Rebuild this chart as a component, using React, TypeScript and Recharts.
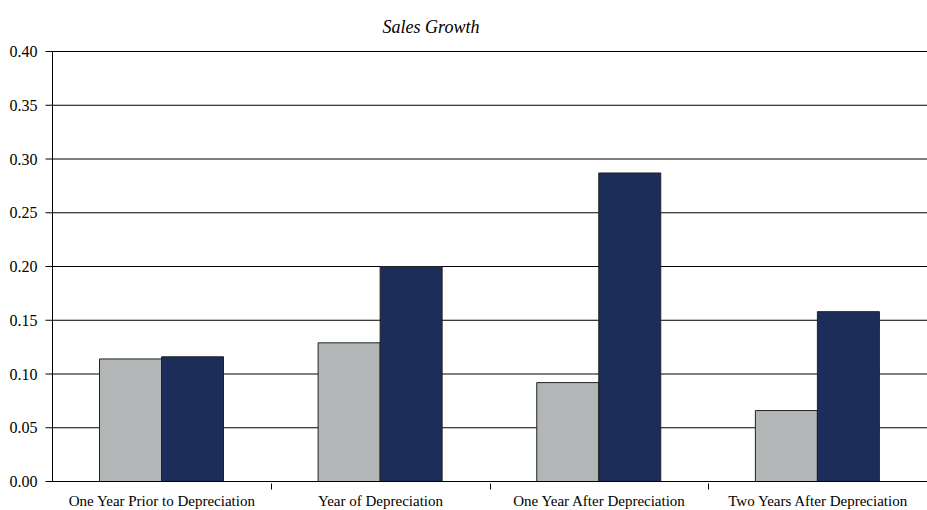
import { BarChart, Bar, XAxis, YAxis, CartesianGrid } from 'recharts'

const categories = [
  'One Year Prior to Depreciation',
  'Year of Depreciation',
  'One Year After Depreciation',
  'Two Years After Depreciation',
]
const grayValues = [0.114, 0.129, 0.092, 0.066]
const navyValues = [0.116, 0.2, 0.287, 0.158]
const yTicks = [0, 0.05, 0.1, 0.15, 0.2, 0.25, 0.3, 0.35, 0.4]

const data = categories.map((name, i) => ({
  name,
  gray: grayValues[i],
  navy: navyValues[i],
}))

const FONT = '"Liberation Serif", "Times New Roman", serif'

// category label plus a tick mark on the left boundary of its band
function CategoryTick(props: any) {
  const { x, y, payload, index } = props
  const half = payload?.offset ?? 0
  const bx = Math.round(x - half) + 0.5
  return (
    <g>
      {index > 0 && <line x1={bx} x2={bx} y1={y} y2={y + 6} stroke="#000" />}
      <text
        x={x}
        y={y + 12}
        dy="0.71em"
        textAnchor="middle"
        fill="#000"
        fontSize={15}
        fontFamily={FONT}
      >
        {payload.value}
      </text>
    </g>
  )
}

export default function App() {
  return (
    <div
      style={{
        position: 'absolute',
        left: 0,
        top: 0,
        width: 927,
        height: 510,
        background: '#fff',
        fontFamily: FONT,
      }}
    >
      <div
        style={{
          position: 'absolute',
          left: 431,
          top: 17,
          transform: 'translateX(-50%)',
          fontFamily: FONT,
          fontStyle: 'italic',
          fontSize: 18,
          color: '#000',
          whiteSpace: 'nowrap',
        }}
      >
        Sales Growth
      </div>
      <BarChart
        width={927}
        height={510}
        data={data}
        margin={{ top: 51.5, right: 0, bottom: 0, left: 0 }}
        barCategoryGap="21.5%"
        barGap={0}
        style={{ fontFamily: FONT }}
      >
        <CartesianGrid vertical={false} stroke="#000" strokeOpacity={1} />
        <XAxis
          dataKey="name"
          tickLine={false}
          axisLine={{ stroke: '#000' }}
          tickSize={0}
          interval={0}
          height={28.5}
          tick={<CategoryTick />}
        />
        <YAxis
          width={52.5}
          domain={[0, 0.4]}
          ticks={yTicks}
          tickFormatter={(v: number) => v.toFixed(2)}
          axisLine={{ stroke: '#000' }}
          tickLine={{ stroke: '#000' }}
          tickSize={7}
          tickMargin={8}
          tick={{ fill: '#000', fontSize: 16, fontFamily: FONT }}
        />
        <Bar dataKey="gray" fill="#b3b6b7" stroke="#222" strokeWidth={1} isAnimationActive={false} />
        <Bar dataKey="navy" fill="#1c2d5a" stroke="#222" strokeWidth={1} isAnimationActive={false} />
      </BarChart>
    </div>
  )
}
